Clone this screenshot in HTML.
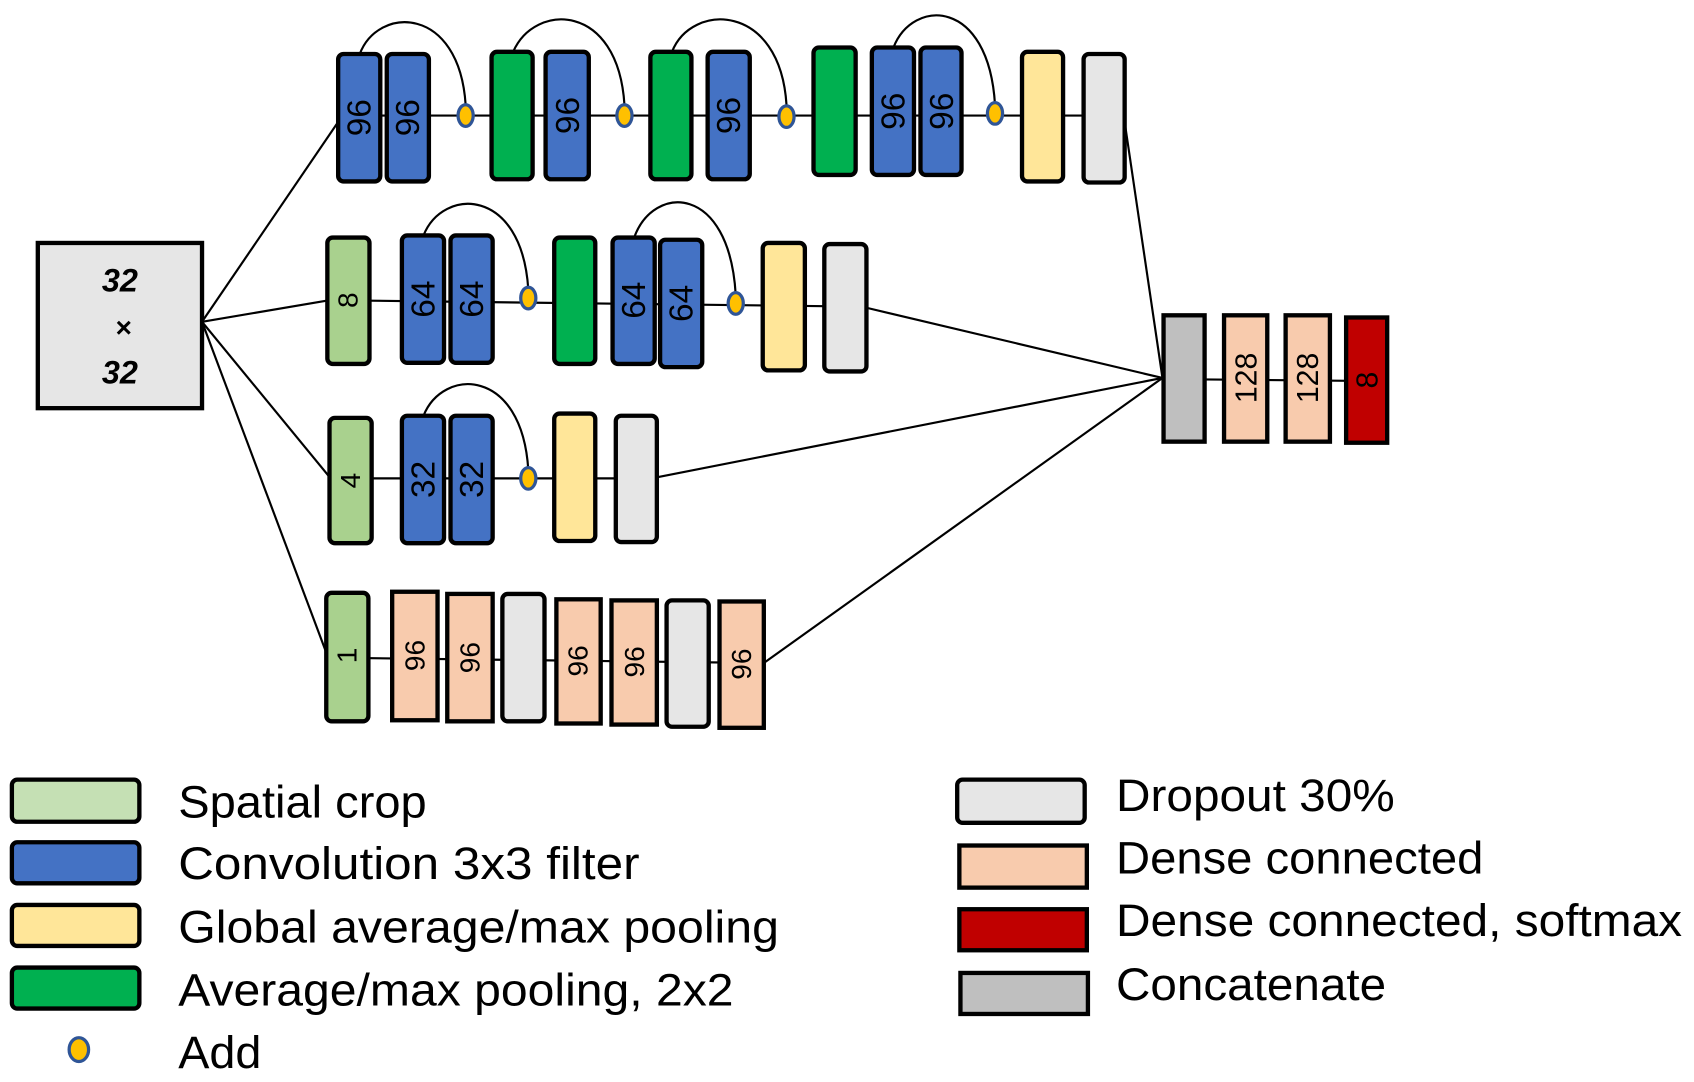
<!DOCTYPE html>
<html><head><meta charset="utf-8"><style>html,body{margin:0;padding:0;background:#fff}svg{display:block}</style></head>
<body>
<svg width="1694" height="1082" viewBox="0 0 1568 1002" preserveAspectRatio="none" xmlns="http://www.w3.org/2000/svg" font-family="Liberation Sans, sans-serif">
<g stroke="#000" stroke-width="2" fill="none">
<line x1="187" y1="298" x2="315" y2="110"/>
<line x1="187" y1="298" x2="305" y2="278"/>
<line x1="187" y1="298" x2="306" y2="443"/>
<line x1="187" y1="298" x2="303" y2="607"/>
<line x1="1041" y1="113" x2="1076" y2="350"/>
<line x1="802" y1="285" x2="1076" y2="350"/>
<line x1="608" y1="442" x2="1076" y2="350"/>
<line x1="707" y1="614" x2="1076" y2="350"/>
<line x1="313" y1="107" x2="1041" y2="107"/>
<line x1="303" y1="278" x2="802" y2="284"/>
<line x1="305" y1="443" x2="608" y2="443"/>
<line x1="302" y1="609" x2="707" y2="614"/>
<line x1="1077" y1="351" x2="1284" y2="353"/>
<path d="M333,50 C350,5 425,5 431,97"/>
<path d="M475,48 C495,2 572,2 578,97"/>
<path d="M622,48 C640,2 722,2 728,97"/>
<path d="M827,44 C845,-2 915,-2 921,97"/>
<path d="M392,218 C410,173 483,173 489,268"/>
<path d="M587,220 C605,170 675,170 681,273"/>
<path d="M392,385 C410,340 483,340 489,435"/>
</g>
<g stroke="#000" stroke-width="4">
<rect x="35" y="225" width="152" height="153" fill="#E6E6E6"/>
<rect x="313" y="50" width="39" height="118" rx="5" fill="#4472C4"/>
<rect x="358" y="50" width="39" height="118" rx="5" fill="#4472C4"/>
<rect x="455" y="48" width="38" height="118" rx="5" fill="#00B050"/>
<rect x="505" y="48" width="40" height="118" rx="5" fill="#4472C4"/>
<rect x="602" y="48" width="38" height="118" rx="5" fill="#00B050"/>
<rect x="655" y="48" width="39" height="118" rx="5" fill="#4472C4"/>
<rect x="753" y="44" width="39" height="118" rx="5" fill="#00B050"/>
<rect x="807" y="44" width="39" height="118" rx="5" fill="#4472C4"/>
<rect x="852" y="44" width="38" height="118" rx="5" fill="#4472C4"/>
<rect x="946" y="48" width="38" height="120" rx="5" fill="#FFE699"/>
<rect x="1003" y="50" width="38" height="119" rx="5" fill="#E6E6E6"/>
<rect x="303" y="220" width="39" height="117" rx="5" fill="#A9D18E"/>
<rect x="372" y="218" width="39" height="118" rx="5" fill="#4472C4"/>
<rect x="417" y="218" width="39" height="118" rx="5" fill="#4472C4"/>
<rect x="513" y="220" width="38" height="117" rx="5" fill="#00B050"/>
<rect x="567" y="220" width="39" height="117" rx="5" fill="#4472C4"/>
<rect x="611" y="222" width="39" height="118" rx="5" fill="#4472C4"/>
<rect x="706" y="225" width="39" height="118" rx="5" fill="#FFE699"/>
<rect x="763" y="226" width="39" height="118" rx="5" fill="#E6E6E6"/>
<rect x="305" y="387" width="39" height="116" rx="5" fill="#A9D18E"/>
<rect x="372" y="385" width="39" height="118" rx="5" fill="#4472C4"/>
<rect x="417" y="385" width="39" height="118" rx="5" fill="#4472C4"/>
<rect x="513" y="383" width="38" height="118" rx="5" fill="#FFE699"/>
<rect x="570" y="385" width="38" height="117" rx="5" fill="#E6E6E6"/>
<rect x="302" y="549" width="39" height="119" rx="5" fill="#A9D18E"/>
<rect x="363" y="548" width="42" height="119" fill="#F8CBAD"/>
<rect x="414" y="550" width="42" height="118" fill="#F8CBAD"/>
<rect x="465" y="550" width="39" height="118" rx="5" fill="#E6E6E6"/>
<rect x="515" y="555" width="41" height="115" fill="#F8CBAD"/>
<rect x="566" y="556" width="42" height="115" fill="#F8CBAD"/>
<rect x="617" y="556" width="39" height="117" rx="5" fill="#E6E6E6"/>
<rect x="666" y="557" width="41" height="117" fill="#F8CBAD"/>
<rect x="1077" y="292" width="38" height="117" fill="#BFBFBF"/>
<rect x="1133" y="292" width="40" height="117" fill="#F8CBAD"/>
<rect x="1190" y="292" width="41" height="117" fill="#F8CBAD"/>
<rect x="1246" y="294" width="38" height="116" fill="#C00000"/>
<rect x="11" y="722" width="118" height="39" rx="5" fill="#C5E0B4"/>
<rect x="11" y="780" width="118" height="38" rx="5" fill="#4472C4"/>
<rect x="11" y="838" width="118" height="38" rx="5" fill="#FFE699"/>
<rect x="11" y="896" width="118" height="38" rx="5" fill="#00B050"/>
<rect x="886" y="722" width="118" height="40" rx="5" fill="#E6E6E6"/>
<rect x="888" y="783" width="118" height="39" fill="#F8CBAD"/>
<rect x="888" y="842" width="118" height="38" fill="#C00000"/>
<rect x="889" y="901" width="118" height="38" fill="#BFBFBF"/>
</g>
<g fill="#FFC000" stroke="#2F5597" stroke-width="3">
<ellipse cx="431" cy="107" rx="7" ry="10"/>
<ellipse cx="578" cy="107" rx="7" ry="10"/>
<ellipse cx="728" cy="108" rx="7" ry="10"/>
<ellipse cx="921" cy="105" rx="7" ry="10"/>
<ellipse cx="489" cy="276" rx="7" ry="10"/>
<ellipse cx="681" cy="281" rx="7" ry="10"/>
<ellipse cx="489" cy="443" rx="7" ry="10"/>
<ellipse cx="73" cy="972" rx="9" ry="11"/>
</g>
<g font-size="31" fill="#000" text-anchor="middle">
<text transform="translate(332,109) rotate(-90)" dy="11">96</text>
<text transform="translate(377,109) rotate(-90)" dy="11">96</text>
<text transform="translate(525,107) rotate(-90)" dy="11">96</text>
<text transform="translate(674,107) rotate(-90)" dy="11">96</text>
<text transform="translate(826,103) rotate(-90)" dy="11">96</text>
<text transform="translate(871,103) rotate(-90)" dy="11">96</text>
<text transform="translate(322,278) rotate(-90)" dy="9" font-size="26">8</text>
<text transform="translate(391,277) rotate(-90)" dy="11">64</text>
<text transform="translate(436,277) rotate(-90)" dy="11">64</text>
<text transform="translate(586,278) rotate(-90)" dy="11">64</text>
<text transform="translate(630,281) rotate(-90)" dy="11">64</text>
<text transform="translate(324,445) rotate(-90)" dy="9" font-size="26">4</text>
<text transform="translate(391,444) rotate(-90)" dy="11">32</text>
<text transform="translate(436,444) rotate(-90)" dy="11">32</text>
<text transform="translate(1153,350) rotate(-90)" dy="10" font-size="28">128</text>
<text transform="translate(1210,350) rotate(-90)" dy="10" font-size="28">128</text>
<text transform="translate(1265,352) rotate(-90)" dy="10" font-size="28">8</text>
<g font-size="26">
<text transform="translate(321,607) rotate(-90)" dy="9">1</text>
<text transform="translate(384,607) rotate(-90)" dy="9">96</text>
<text transform="translate(435,609) rotate(-90)" dy="9">96</text>
<text transform="translate(535,612) rotate(-90)" dy="9">96</text>
<text transform="translate(587,613) rotate(-90)" dy="9">96</text>
<text transform="translate(686,615) rotate(-90)" dy="9">96</text>
</g>
<g font-weight="bold" font-style="italic" font-size="30">
<text x="111" y="270">32</text>
<text x="114" y="312" font-size="26">×</text>
<text x="111" y="355">32</text>
</g>
</g>
<g font-size="42" fill="#000">
<text x="165" y="757" textLength="230" lengthAdjust="spacingAndGlyphs">Spatial crop</text>
<text x="165" y="814" textLength="427" lengthAdjust="spacingAndGlyphs">Convolution 3x3 filter</text>
<text x="165" y="873" textLength="556" lengthAdjust="spacingAndGlyphs">Global average/max pooling</text>
<text x="165" y="931" textLength="514" lengthAdjust="spacingAndGlyphs">Average/max pooling, 2x2</text>
<text x="165" y="989" textLength="77" lengthAdjust="spacingAndGlyphs">Add</text>
<text x="1033" y="751" textLength="258" lengthAdjust="spacingAndGlyphs">Dropout 30%</text>
<text x="1033" y="809" textLength="340" lengthAdjust="spacingAndGlyphs">Dense connected</text>
<text x="1033" y="867" textLength="524" lengthAdjust="spacingAndGlyphs">Dense connected, softmax</text>
<text x="1033" y="926" textLength="250" lengthAdjust="spacingAndGlyphs">Concatenate</text>
</g>
</svg>
</body></html>
